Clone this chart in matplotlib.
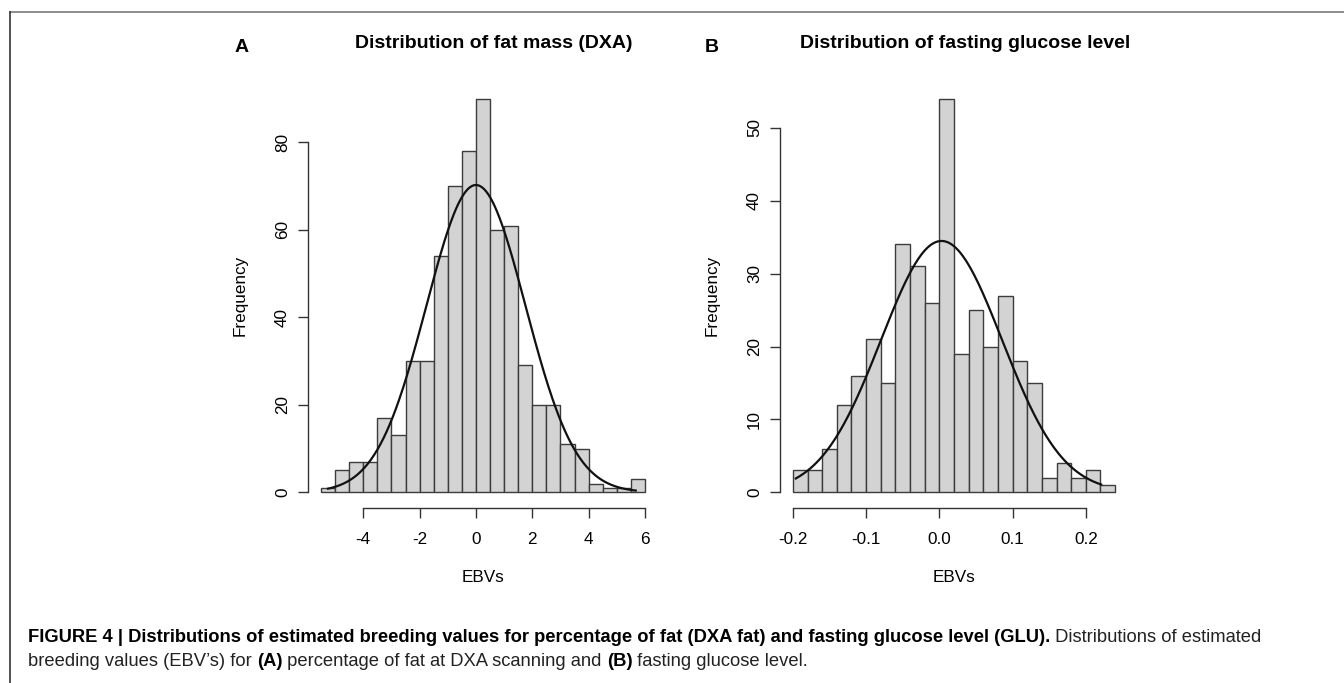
import numpy as np
import matplotlib
matplotlib.use("Agg")
import matplotlib.pyplot as plt
from matplotlib.lines import Line2D

plt.rcParams['font.family'] = ['Liberation Sans', 'DejaVu Sans']

# ---------------- data ----------------
fat_bin_start = -5.5
fat_bin_width = 0.5
fat_counts = [1, 5, 7, 7, 17, 13, 30, 30, 54, 70, 78, 90, 60, 61, 29, 20, 20, 11, 10, 2, 1, 1, 3]
fat_fit_mean = 0.0
fat_fit_sd = 1.76
fat_fit_range = (-5.25, 5.67)
fat_xticks = [-4, -2, 0, 2, 4, 6]
fat_xticklabels = ["-4", "-2", "0", "2", "4", "6"]
fat_yticks = [0, 20, 40, 60, 80]

glu_bin_start = -0.20
glu_bin_width = 0.02
glu_counts = [3, 3, 6, 12, 16, 21, 15, 34, 31, 26, 54, 19, 25, 20, 27, 18, 15, 2, 4, 2, 3, 1]
glu_fit_mean = 0.003
glu_fit_sd = 0.0826
glu_fit_range = (-0.196, 0.221)
glu_xticks = [-0.2, -0.1, 0.0, 0.1, 0.2]
glu_xticklabels = ["-0.2", "-0.1", "0.0", "0.1", "0.2"]
glu_yticks = [0, 10, 20, 30, 40, 50]

titles = ["Distribution of fat mass (DXA)", "Distribution of fasting glucose level"]
panel_letters = ["A", "B"]
xlabel = "EBVs"
ylabel = "Frequency"

# ---------------- figure ----------------
W, H = 1344, 683
fig = plt.figure(figsize=(W / 100, H / 100), dpi=100)


def px_rect(x0, y0, x1, y1):
    return [x0 / W, 1 - y1 / H, (x1 - x0) / W, (y1 - y0) / H]


def draw_hist(ax, start, width, counts, mean, sd, frange, xticks, xtl, yticks):
    counts = np.asarray(counts, dtype=float)
    edges = start + width * np.arange(len(counts) + 1)
    ax.bar(edges[:-1], counts, width=width, align='edge', color='#d3d3d3',
           edgecolor='#3c3c3c', linewidth=1.0, zorder=2)
    n = counts.sum()
    xs = np.linspace(frange[0], frange[1], 300)
    ys = n * width * np.exp(-0.5 * ((xs - mean) / sd) ** 2) / (sd * np.sqrt(2 * np.pi))
    ax.plot(xs, ys, color='#111111', lw=1.6, zorder=3)
    lo, hi = edges[0], edges[-1]
    ext = 0.04 * (hi - lo)
    ax.set_xlim(lo - ext, hi + ext)
    ymax = counts.max()
    ax.set_ylim(-0.04 * ymax, ymax * 1.04)
    for s in ['top', 'right']:
        ax.spines[s].set_visible(False)
    for s in ['left', 'bottom']:
        ax.spines[s].set_color('#333333')
        ax.spines[s].set_linewidth(1.0)
    ax.spines['bottom'].set_bounds(xticks[0], xticks[-1])
    ax.spines['left'].set_bounds(yticks[0], yticks[-1])
    ax.set_xticks(xticks)
    ax.set_xticklabels(xtl)
    ax.set_yticks(yticks)
    ax.tick_params(axis='both', direction='out', length=7, width=1.0, color='#333333',
                   labelsize=12.3, labelcolor='black')
    ax.tick_params(axis='x', pad=10)
    ax.tick_params(axis='y', pad=6)
    for lab in ax.get_yticklabels():
        lab.set_rotation(90)
        lab.set_va('center')
    ax.set_xlabel(xlabel, fontsize=12.3)
    ax.xaxis.set_label_coords(0.5, -70 / 425)
    ax.xaxis.label.set_va('center')
    ax.set_ylabel(ylabel, fontsize=12.3)
    ax.yaxis.set_label_coords(-68 / 349, (508 - 295) / 425)
    ax.yaxis.label.set_va('center')
    ax.patch.set_alpha(0)


ax1 = fig.add_axes(px_rect(308, 83, 658, 508))
draw_hist(ax1, fat_bin_start, fat_bin_width, fat_counts, fat_fit_mean, fat_fit_sd,
          fat_fit_range, fat_xticks, fat_xticklabels, fat_yticks)
ax2 = fig.add_axes(px_rect(780, 83, 1128, 508))
draw_hist(ax2, glu_bin_start, glu_bin_width, glu_counts, glu_fit_mean, glu_fit_sd,
          glu_fit_range, glu_xticks, glu_xticklabels, glu_yticks)

# titles and panel letters
fig.text(494 / W, 1 - 44 / H, titles[0], ha='center', va='center', fontsize=14, fontweight='bold')
fig.text(965 / W, 1 - 44 / H, titles[1], ha='center', va='center', fontsize=14, fontweight='bold')
fig.text(242 / W, 1 - 47 / H, panel_letters[0], ha='center', va='center', fontsize=14, fontweight='bold')
fig.text(712 / W, 1 - 47 / H, panel_letters[1], ha='center', va='center', fontsize=14, fontweight='bold')

# border
fig.add_artist(Line2D([9.5 / W, 1.0], [1 - 12 / H, 1 - 12 / H], color='#7a7a7a', lw=1.2))
fig.add_artist(Line2D([9.5 / W, 9.5 / W], [0.0, 1 - 12 / H], color='#333333', lw=1.2))

# caption with mixed bold/regular runs
cap_lines = [
    [("FIGURE 4 | Distributions of estimated breeding values for percentage of fat (DXA fat) and fasting glucose level (GLU).", 'bold'),
     (" Distributions of estimated", 'normal')],
    [("breeding values (EBV\u2019s) for ", 'normal'), ("(A)", 'bold'),
     (" percentage of fat at DXA scanning and ", 'normal'), ("(B)", 'bold'),
     (" fasting glucose level.", 'normal')],
]
cap_y = [637, 662]
cap_size = 13.2
fig.canvas.draw()
renderer = fig.canvas.get_renderer()
for runs, yp in zip(cap_lines, cap_y):
    x = 28 / W
    for txt, wt in runs:
        t = fig.text(x, 1 - yp / H, txt, ha='left', va='center', fontsize=cap_size,
                     fontweight=wt, color='black' if wt == 'bold' else '#222222')
        bb = t.get_window_extent(renderer=renderer)
        x = bb.x1 / W

fig.savefig("out.png", dpi=100)
